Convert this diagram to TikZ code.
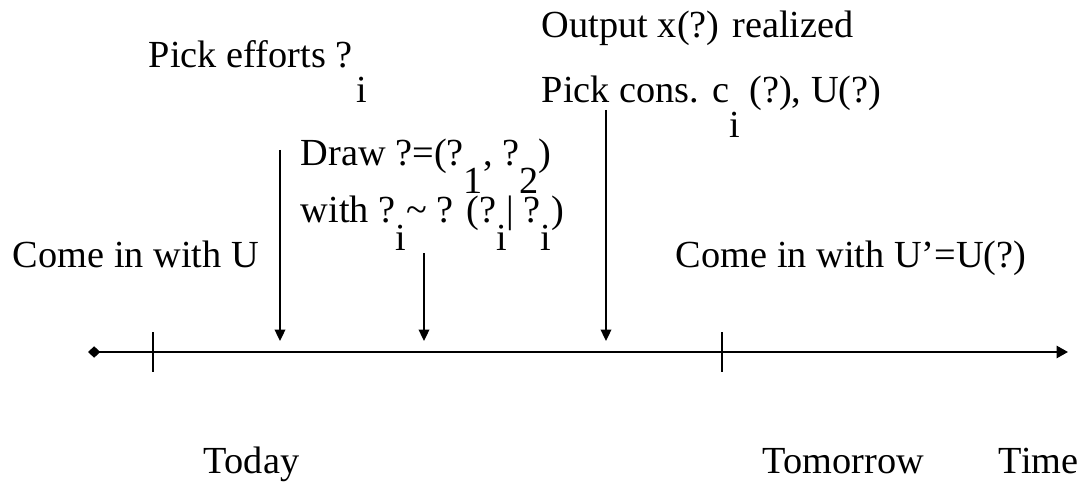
\documentclass[tikz,border=0pt]{standalone}
\usepackage{fontspec}
\setmainfont{Liberation Serif}
\usetikzlibrary{arrows.meta}
\newcommand{\lo}[2][0.9em]{\raisebox{-#1}{#2}}

\begin{document}
\begin{tikzpicture}[x=0.02cm, y=-0.02cm, line width=1.1pt,
    lbl/.style={anchor=base west, inner sep=0pt, font=\fontsize{21.8}{26}\selectfont},
    down/.style={-{Triangle[length=6.5pt, width=6pt]}}]
    \useasboundingbox (0,0) rectangle (1086,483);
    % time line
    \coordinate (start) at (88,352);
    \coordinate (end) at (1068,352);
    \coordinate (t0) at (153,352);
    \coordinate (t1) at (722,352);
    \draw[{Diamond[length=7pt, width=6.5pt]}-{Triangle[length=6.5pt, width=7pt]}] (start) -- (end);
    \draw (t0) ++(0,-20) -- ++(0,40);
    \draw (t1) ++(0,-20) -- ++(0,40);
    % events
    \node[lbl] (effort) at (148,68) {Pick efforts ?\hspace{0.1em}\lo{i}};
    \node[lbl] (output) at (541,38) {Output x(?) realized};
    \node[lbl] (cons) at (541,103) {Pick cons. c\lo{i} (?), U(?)};
    \node[lbl] (shock) at (300,166) {Draw ?=(?\lo[0.72em]{1}, ?\lo[0.72em]{2})};
    \node[lbl] (law) at (300,222) {with ?\lo[0.75em]{i}\textasciitilde{} ? (?\lo[0.75em]{i}| ?\lo[0.75em]{i})};
    \node[lbl] (uin) at (12,267) {Come in with U};
    \node[lbl] (uout) at (675,267) {Come in with U’=U(?)};
    \node[lbl] (today) at (203,473) {Today};
    \node[lbl] (tomorrow) at (762,473) {Tomorrow};
    \node[lbl] (time) at (998,473) {Time};
    % arrows onto the line
    \coordinate (a1) at (280,150);
    \coordinate (a2) at (424,253);
    \coordinate (a3) at (606,110);
    \draw[down] (a1) -- (a1 |- 0,341);
    \draw[down] (a2) -- (a2 |- 0,341);
    \draw[down] (a3) -- (a3 |- 0,341);
\end{tikzpicture}
\end{document}
